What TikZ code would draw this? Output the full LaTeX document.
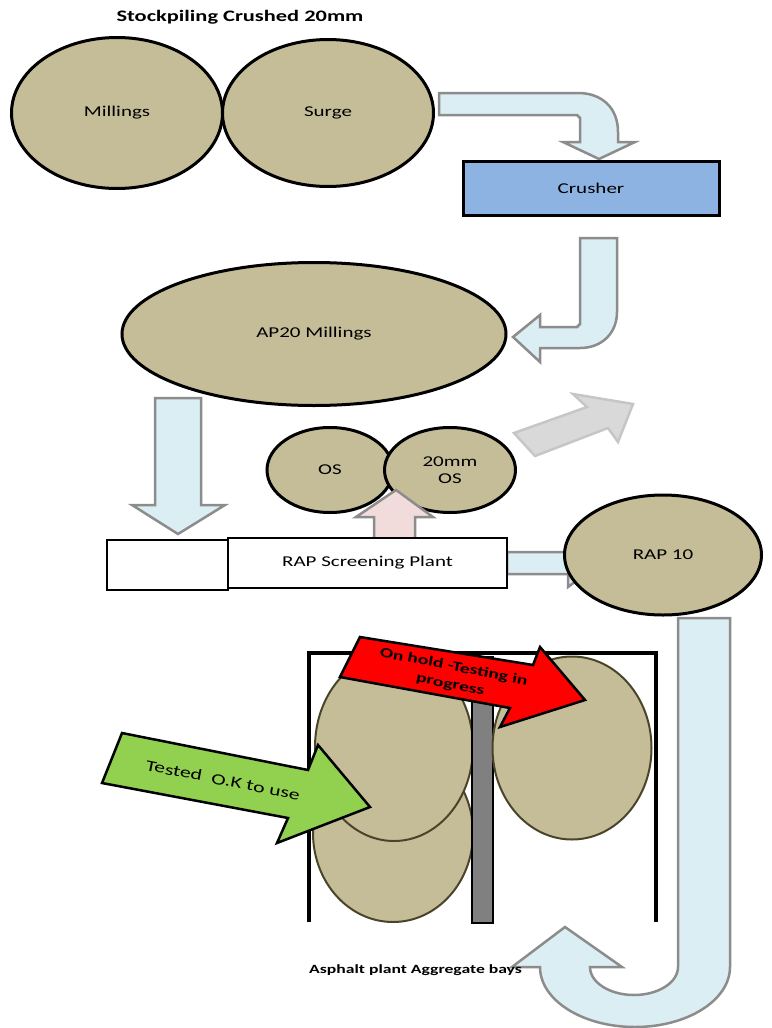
\documentclass[tikz,border=0pt]{standalone}
\usepackage{fontspec}
\setmainfont{Carlito}[FakeStretch=1.4]
\usetikzlibrary{shapes.geometric}
\definecolor{pilefill}{HTML}{C4BD97}
\definecolor{pileline}{HTML}{4A452A}
\definecolor{flowblue}{HTML}{DBEEF3}
\definecolor{flowline}{HTML}{8C8C8C}
\definecolor{crushblue}{HTML}{8DB3E2}
\definecolor{screenpink}{HTML}{F2DCDB}
\definecolor{backgrey}{HTML}{D9D9D9}
\definecolor{backline}{HTML}{C6C6C6}
\definecolor{okgreen}{HTML}{92D050}

\begin{document}
\begin{tikzpicture}[x=1pt, y=-1pt,
    every node/.style={font=\fontsize{15}{17}\selectfont},
    pile/.style={draw, ellipse, line width=3pt, fill=pilefill, inner sep=0pt},
    baypile/.style={draw=pileline, ellipse, line width=2pt, fill=pilefill, inner sep=0pt},
    plantbox/.style={draw, line width=2.5pt, fill=white, inner sep=0pt, minimum height=50pt},
    flow/.style={draw=flowline, line width=2.5pt, fill=flowblue, line join=miter},
    tag/.style={draw, line width=2.5pt, line join=miter}]
  \useasboundingbox (0,0) rectangle (771,1028);

  \node[font=\bfseries\fontsize{16}{18}\selectfont] (title) at (240,17) {Stockpiling Crushed 20mm};
  \node[pile, minimum width=211pt, minimum height=151pt] (millings) at (117,113) {Millings};
  \node[pile, minimum width=211pt, minimum height=147pt] (surge) at (328,113) {Surge};

  \draw[flow] (439,93) -- (578,93) .. controls (602,93) and (618,108) .. (618,132) -- (618,142)
    -- (635,142) -- (599,159) -- (563,142) -- (580,142) -- (580,118) -- (577,115) -- (439,115) -- cycle;
  \node[draw, line width=3pt, fill=crushblue, minimum width=256pt, minimum height=54pt] (crusher) at (591,188) {Crusher};

  \draw[flow] (580,238) -- (617,238) -- (617,312) .. controls (617,333) and (602,348) .. (580,348)
    -- (540,348) -- (540,362) -- (513,337) -- (540,315) -- (540,327) -- (577,327) -- (580,324) -- cycle;
  \node[pile, minimum width=384pt, minimum height=143pt] (ap20) at (314,334) {AP20 Millings};

  \draw[flow] (155,398) -- (201,398) -- (201,505) -- (225,505) -- (178,534) -- (132,505) -- (155,505) -- cycle;
  \draw[draw=backline, line width=2.5pt, fill=backgrey, line join=miter] (514,433) -- (587,407) -- (573,394)
    -- (633,404) -- (618,442) -- (608,428) -- (535,456) -- cycle;

  \node[pile, minimum width=126pt, minimum height=85pt] (os) at (330,470) {OS};
  \node[pile, minimum width=131pt, minimum height=85pt, align=center] (os20) at (450,470) {20mm\\OS};
  \draw[flow, fill=screenpink] (374,541) -- (374,517) -- (356,517) -- (396,490) -- (433,517) -- (415,517) -- (415,541) -- cycle;

  \draw[flow] (507,552) -- (568,552) -- (568,539) -- (600,563) -- (568,587) -- (568,574) -- (507,574) -- cycle;
  \node[plantbox, minimum width=121pt] (feed) at (167.5,565) {};
  \node[plantbox, minimum width=279pt] (plant) at (367.5,563) {RAP Screening Plant};
  \node[pile, minimum width=197pt, minimum height=120pt] (rap10) at (663,555) {RAP 10};

  \draw[flow] (678,618) -- (730,618) -- (730,967) arc[start angle=0, end angle=180, x radius=95, y radius=60]
    -- (512,967) -- (565,927) -- (622,967) -- (590,967) arc[start angle=180, end angle=0, x radius=44, y radius=28] -- cycle;

  \draw[line width=4pt] (309,922) -- (309,653) -- (656,653) -- (656,922);
  \node[baypile, minimum width=160pt, minimum height=178pt] (bayl) at (393,833) {};
  \node[baypile, minimum width=158pt, minimum height=188pt] (bayu) at (394,747) {};
  \node[draw, line width=2pt, fill=gray, inner sep=0pt, minimum width=21pt, minimum height=266pt] (divider) at (482.5,790) {};
  \node[baypile, minimum width=159pt, minimum height=183pt] (bayr) at (572,748) {};

  \draw[tag, fill=red] (360,637) -- (533,665) -- (540,647) -- (585,700) -- (500,727) -- (510,708) -- (340,677) -- cycle;
  \node[font=\bfseries\fontsize{14}{18}\selectfont, align=center, rotate=-11, inner sep=1pt] (onhold) at (452,676) {On hold -Testing in\\progress};
  \draw[tag, fill=okgreen] (122,733) -- (308,770) -- (318,745) -- (370,807) -- (277,843) -- (288,818) -- (102,783) -- cycle;
  \node[font=\fontsize{15.5}{17}\selectfont, rotate=-11, inner sep=1pt] (tested) at (223,780) {Tested\ \ O.K to use};

  \node[font=\bfseries\fontsize{12.6}{14}\selectfont, anchor=west, inner sep=0pt] (bays) at (309,970) {Asphalt plant Aggregate bays};
\end{tikzpicture}
\end{document}
